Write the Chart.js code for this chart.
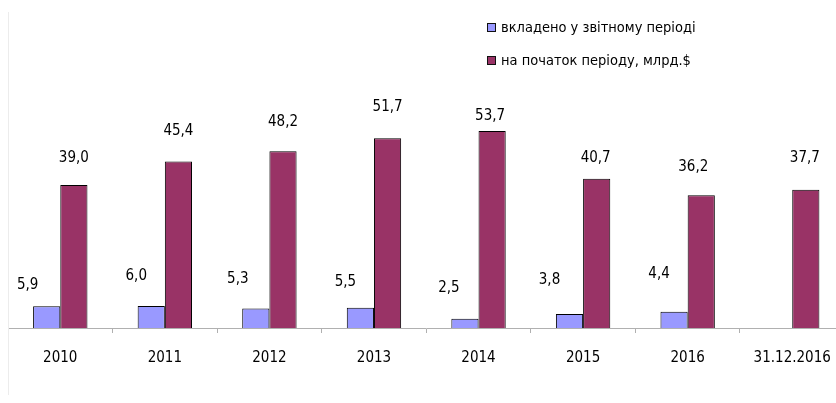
<!DOCTYPE html>
<html>
<head>
<meta charset="utf-8">
<script src="https://cdn.jsdelivr.net/npm/chart.js@4/dist/chart.umd.min.js"></script>
<style>
    html, body { margin: 0; padding: 0; background: #fff; overflow: hidden; }
    #wrap { position: relative; width: 850px; height: 403px; }
    #frame { position: absolute; left: 8px; top: 12px; height: 383px; border-left: 1px solid #ececec; }
    .legend { position: absolute; left: 487px; font: 14.5px "DejaVu Sans Condensed", "Liberation Sans Narrow", sans-serif; color: #000; }
    .legend div { position: relative; height: 20px; line-height: 20px; padding-left: 14px; white-space: nowrap; }
    .legend span { position: absolute; left: 0; top: 6px; width: 7px; height: 7px; border: 1px solid #111; }
</style>
</head>
<body>
<div id="wrap">
    <div id="frame"></div>
    <canvas id="barChart" width="850" height="403"></canvas>
    <div class="legend" id="legend" style="top:17px"></div>
</div>
<script>
const categories = ["2010", "2011", "2012", "2013", "2014", "2015", "2016", "31.12.2016"];
const investedValues = [5.9, 6.0, 5.3, 5.5, 2.5, 3.8, 4.4, null];
const startValues = [39.0, 45.4, 48.2, 51.7, 53.7, 40.7, 36.2, 37.7];
const seriesNames = ["вкладено у звітному періоді", "на початок періоду, млрд.$"];

const colors = ["#9999ff", "#993366"];
const FONT = '"DejaVu Sans Condensed", "Liberation Sans Narrow", sans-serif';

// label placement (px above bar top, px horizontal shift), as in the original
const blueLift = [21, 30, 29, 26, 31, 34, 38, 0];
const blueShift = [-19, -15, -18, -15, -16, -20, -15, 0];
const redLift = [27, 30, 29, 31, 15, 21, 28, 32];
const redShift = [0, 0, 0, 0, -2, -1, -8, -1];

// html legend
const legend = document.getElementById("legend");
seriesNames.forEach((name, i) => {
    const row = document.createElement("div");
    row.style.marginBottom = i === 0 ? "13px" : "0";
    row.innerHTML = `<span style="background:${colors[i]}"></span>${name}`;
    legend.appendChild(row);
});

const valueLabels = {
    id: "valueLabels",
    afterDatasetsDraw(chart) {
        const ctx = chart.ctx;
        ctx.save();
        ctx.font = "15px " + FONT;
        ctx.fillStyle = "#000";
        ctx.textAlign = "center";
        ctx.textBaseline = "middle";
        chart.data.datasets.forEach((ds, di) => {
            const meta = chart.getDatasetMeta(di);
            meta.data.forEach((bar, i) => {
                const v = ds.data[i];
                if (v === null) return;
                const lift = di === 0 ? blueLift[i] : redLift[i];
                const shift = di === 0 ? blueShift[i] : redShift[i];
                const text = v.toFixed(1).replace(".", ",");
                ctx.fillText(text, bar.x + shift, bar.y - lift);
            });
        });
        ctx.restore();
    }
};

new Chart(document.getElementById("barChart"), {
    type: "bar",
    data: {
        labels: categories,
        datasets: [
            {
                label: seriesNames[0],
                data: investedValues,
                backgroundColor: colors[0],
                borderColor: "#000",
                borderWidth: 1,
                categoryPercentage: 0.52,
                barPercentage: 1.0
            },
            {
                label: seriesNames[1],
                data: startValues,
                backgroundColor: colors[1],
                borderColor: "#000",
                borderWidth: 1,
                categoryPercentage: 0.52,
                barPercentage: 1.0
            }
        ]
    },
    options: {
        responsive: false,
        animation: false,
        layout: { padding: { left: 8, right: 5.5, top: 0, bottom: 0 } },
        plugins: {
            legend: { display: false },
            tooltip: { enabled: false }
        },
        scales: {
            x: {
                afterFit: s => { s.height = 75; },
                grid: {
                    drawOnChartArea: false,
                    drawTicks: true,
                    tickLength: 5,
                    color: "#b0b0b0"
                },
                border: { color: "#b0b0b0", width: 1 },
                ticks: {
                    color: "#000",
                    padding: 16,
                    font: { family: FONT, size: 15 }
                }
            },
            y: {
                display: false,
                min: 0,
                max: 89.4
            }
        }
    },
    plugins: [valueLabels]
});
</script>
</body>
</html>
